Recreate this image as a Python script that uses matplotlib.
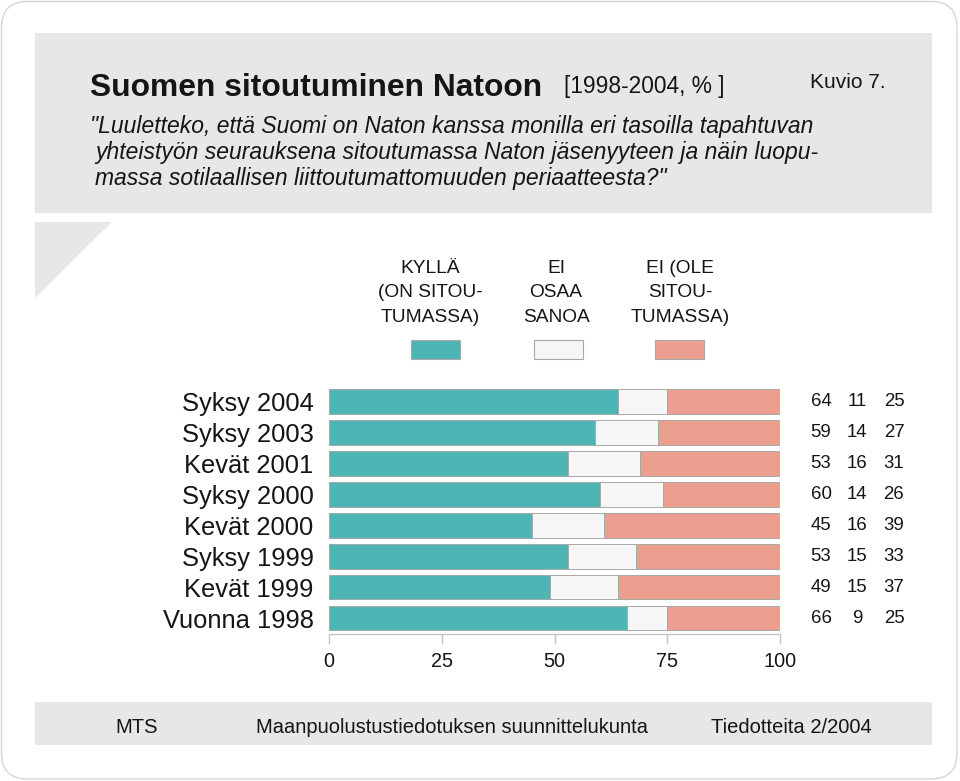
import matplotlib
matplotlib.use("Agg")
import matplotlib.pyplot as plt
from matplotlib import font_manager as fm
from matplotlib.patches import FancyBboxPatch, Rectangle, Polygon
import matplotlib.transforms as mtransforms

# ---------------- data ----------------
categories = ["Syksy 2004", "Syksy 2003", "Kevät 2001", "Syksy 2000",
              "Kevät 2000", "Syksy 1999", "Kevät 1999", "Vuonna 1998"]
kylla = [64, 59, 53, 60, 45, 53, 49, 66]
ei_osaa = [11, 14, 16, 14, 16, 15, 15, 9]
ei_ole = [25, 27, 31, 26, 39, 33, 37, 25]
series_names = [["KYLLÄ", "(ON SITOU-", "TUMASSA)"],
                ["EI", "OSAA", "SANOA"],
                ["EI (OLE", "SITOU-", "TUMASSA)"]]
xticks = [0, 25, 50, 75, 100]

title = "Suomen sitoutuminen Natoon"
period = "[1998-2004, % ]"
figno = "Kuvio 7."
question = ['"Luuletteko, että Suomi on Naton kanssa monilla eri tasoilla tapahtuvan',
            'yhteistyön seurauksena sitoutumassa Naton jäsenyyteen ja näin luopu-',
            'massa sotilaallisen liittoutumattomuuden periaatteesta?"']
footer = ["MTS", "Maanpuolustustiedotuksen suunnittelukunta", "Tiedotteita 2/2004"]

# ---------------- style ----------------
C_TEAL = "#4db5b3"
C_GREY = "#f6f6f6"
C_SALM = "#eba08f"
C_EDGE = "#a8a8a8"
C_BOX = "#e7e7e7"
TXT = "#151515"

names = {f.name for f in fm.fontManager.ttflist}
BASE = "Liberation Sans" if "Liberation Sans" in names else "DejaVu Sans"
NARROW = "Liberation Sans Narrow" if "Liberation Sans Narrow" in names else None
plt.rcParams["font.family"] = [BASE, "DejaVu Sans"]

W, H = 960, 781
fig = plt.figure(figsize=(W / 100, H / 100), dpi=100)
fig.patch.set_facecolor("white")

def fx(px):
    return px / W

def fy(py):
    return 1 - py / H

# outer rounded frame
fig.patches.append(FancyBboxPatch((fx(1.5), fy(779)), fx(957) - fx(1.5), fy(1.5) - fy(779),
                                  boxstyle="round,pad=0,rounding_size=0.027",
                                  transform=fig.transFigure, facecolor="white",
                                  edgecolor="#d6d6d6", linewidth=1.0, zorder=-2,
                                  mutation_aspect=W / H))
# header box
fig.patches.append(Rectangle((fx(35), fy(213)), fx(932) - fx(35), fy(33) - fy(213),
                             transform=fig.transFigure, facecolor=C_BOX, edgecolor="none", zorder=-1))
# triangle
fig.patches.append(Polygon([(fx(35), fy(222)), (fx(112), fy(222)), (fx(35), fy(298))],
                           closed=True, transform=fig.transFigure, facecolor=C_BOX,
                           edgecolor="none", zorder=-1))
# footer box
fig.patches.append(Rectangle((fx(35), fy(744.5)), fx(932) - fx(35), fy(701.5) - fy(744.5),
                             transform=fig.transFigure, facecolor=C_BOX, edgecolor="none", zorder=-1))

# header texts
fig.text(fx(90), fy(95.5), title, fontsize=22.9, fontweight="bold", color=TXT,
         ha="left", va="baseline")
if NARROW:
    fig.text(fx(564), fy(93), period, fontsize=20.3, family=NARROW, color=TXT,
             ha="left", va="baseline")
else:
    fig.text(fx(564), fy(93), period, fontsize=16.4, color=TXT, ha="left", va="baseline")
fig.text(fx(810), fy(87.5), figno, fontsize=15.0, color=TXT, ha="left", va="baseline")

q_x = [90, 95, 95]
q_y = [133.5, 159, 184.5]
for s, x, y in zip(question, q_x, q_y):
    fig.text(fx(x), fy(y), s, fontsize=16.5, style="italic", color=TXT,
             ha="left", va="baseline")

# legend
leg_cx = [430, 556, 680]
leg_colors = [C_TEAL, C_GREY, C_SALM]
leg_left = [411, 534, 655]
for lines, cx, col, lx in zip(series_names, leg_cx, leg_colors, leg_left):
    for i, line in enumerate(lines):
        if NARROW:
            fig.text(fx(cx), fy(272.7 + 24.5 * i), line, fontsize=16.0, family=NARROW,
                     color=TXT, ha="center", va="baseline")
        else:
            fig.text(fx(cx), fy(272.7 + 24.5 * i), line, fontsize=13.8, color=TXT,
                     ha="center", va="baseline")
    fig.patches.append(Rectangle((fx(lx), fy(358.5)), fx(49), fy(340) - fy(358.5),
                                 transform=fig.transFigure, facecolor=col,
                                 edgecolor=C_EDGE, linewidth=0.8, zorder=2))

# chart axes
unit = 30.96
c0 = 401.5
top = c0 - 0.45 * unit
bot = c0 + 7.5 * unit
ax = fig.add_axes([fx(329), fy(bot), fx(780) - fx(329), fy(top) - fy(bot)])
ax.set_zorder(3)
ax.set_facecolor("none")
ypos = list(range(len(categories)))
left2 = [a for a in kylla]
left3 = [a + b for a, b in zip(kylla, ei_osaa)]
bh = 0.79
ax.barh(ypos, kylla, height=bh, color=C_TEAL, edgecolor=C_EDGE, linewidth=0.7, zorder=2)
ax.barh(ypos, ei_osaa, left=left2, height=bh, color=C_GREY, edgecolor=C_EDGE, linewidth=0.7, zorder=2)
ax.barh(ypos, ei_ole, left=left3, height=bh, color=C_SALM, edgecolor=C_EDGE, linewidth=0.7, zorder=2)
ax.set_xlim(0, 100)
ax.set_ylim(7.5, -0.45)
for sp in ["top", "right", "left"]:
    ax.spines[sp].set_visible(False)
ax.spines["bottom"].set_color("#c4c4c4")
ax.spines["bottom"].set_linewidth(1.0)
ax.set_xticks(xticks)
ax.set_xticklabels([str(t) for t in xticks])
ax.tick_params(axis="x", colors="#c4c4c4", length=7, width=1.0, labelsize=14.3,
               labelcolor=TXT, pad=6)
ax.set_yticks(ypos)
ax.set_yticklabels(categories)
ax.tick_params(axis="y", length=0, pad=11, labelsize=18.4, labelcolor=TXT)

# value columns
trans = mtransforms.blended_transform_factory(fig.transFigure, ax.transData)
col_x = [821, 857, 894]
for i in ypos:
    for vals, cx in zip([kylla, ei_osaa, ei_ole], col_x):
        ax.text(fx(cx), i, str(vals[i]), transform=trans, fontsize=13.4, color=TXT,
                ha="center", va="center", clip_on=False)

# footer texts
foot_cx = [137, 452.5, 791.5]
for s, cx in zip(footer, foot_cx):
    fig.text(fx(cx), fy(732.7), s, fontsize=14.5, color=TXT, ha="center", va="baseline")

fig.savefig("out.png", dpi=100, facecolor="white")
